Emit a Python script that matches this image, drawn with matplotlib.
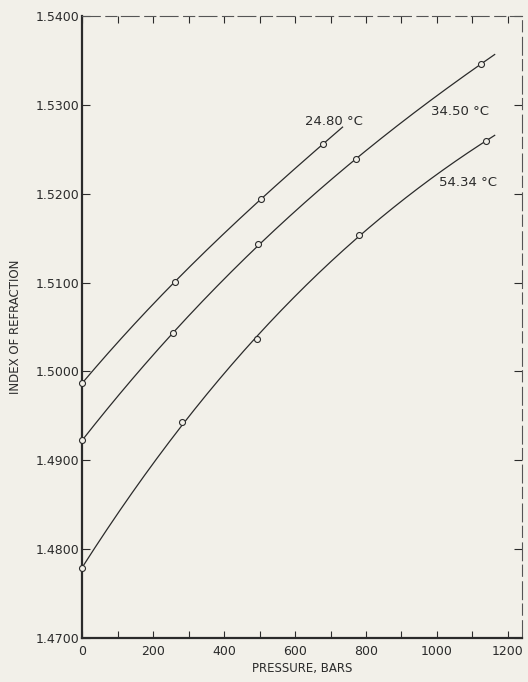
import numpy as np
import matplotlib
matplotlib.use("Agg")
import matplotlib.pyplot as plt

# refractive index vs pressure at three temperatures
temps = ["24.80 °C", "34.50 °C", "54.34 °C"]

p_2480 = [0, 261, 504, 679]
n_2480 = [1.4987, 1.5101, 1.5194, 1.5256]

p_3450 = [0, 257, 496, 773, 1124]
n_3450 = [1.4923, 1.5043, 1.5143, 1.5239, 1.5346]

p_5434 = [0, 282, 494, 780, 1138]
n_5434 = [1.4779, 1.4943, 1.5036, 1.5154, 1.5259]

# how far each smoothed curve is carried past the last reading
p_end = [734, 1163, 1163]

# label anchor (pressure, index) for each isotherm
label_pos = [(629, 1.5281), (982, 1.5292), (1005, 1.5213)]

x_ticks = [0, 200, 400, 600, 800, 1000, 1200]
y_ticks = [1.4700, 1.4800, 1.4900, 1.5000, 1.5100, 1.5200, 1.5300, 1.5400]

paper = "#f2f0e9"
ink = "#2b2b2b"

fig = plt.figure(figsize=(5.28, 6.82), dpi=100, facecolor=paper)
ax = fig.add_axes([0.1559, 0.0645, 0.8327, 0.912], facecolor=paper)

series = [(p_2480, n_2480), (p_3450, n_3450), (p_5434, n_5434)]
for (p, n), pmax, name, (lx, ly) in zip(series, p_end, temps, label_pos):
    # smooth curve through the readings
    coef = np.polyfit(p, n, 3)
    pp = np.linspace(0, pmax, 200)
    ax.plot(pp, np.polyval(coef, pp), color=ink, lw=0.9, zorder=2)
    ax.plot(p, n, "o", ms=4.3, mfc=paper, mec=ink, mew=0.8, zorder=3,
            clip_on=False)
    ax.text(lx, ly, name, fontsize=9.5, color=ink, ha="left", va="center")

ax.set_xlim(0, 1240)
ax.set_ylim(1.47, 1.54)

ax.set_xticks(x_ticks)
ax.set_xticks(np.arange(100, 1201, 200), minor=True)
ax.set_yticks(y_ticks)
ax.set_yticklabels([f"{v:.4f}" for v in y_ticks])

ax.tick_params(axis="both", which="both", direction="in", colors=ink,
               top=True, right=True, labelsize=9)
ax.tick_params(axis="x", which="both", length=5, width=0.8, pad=5)
ax.tick_params(axis="y", length=6, width=0.8, pad=2)

for side in ["left", "bottom"]:
    ax.spines[side].set_linewidth(1.6)
    ax.spines[side].set_color(ink)
for side in ["top", "right"]:
    ax.spines[side].set_linewidth(0.8)
    ax.spines[side].set_color("#555555")
    ax.spines[side].set_linestyle((0, (16, 5, 10, 4)))

ax.set_xlabel("PRESSURE, BARS", fontsize=8.5, color=ink, labelpad=3)
ax.set_ylabel("INDEX OF REFRACTION", fontsize=8.5, color=ink, labelpad=10)

fig.savefig("out.png", dpi=100, facecolor=paper)
